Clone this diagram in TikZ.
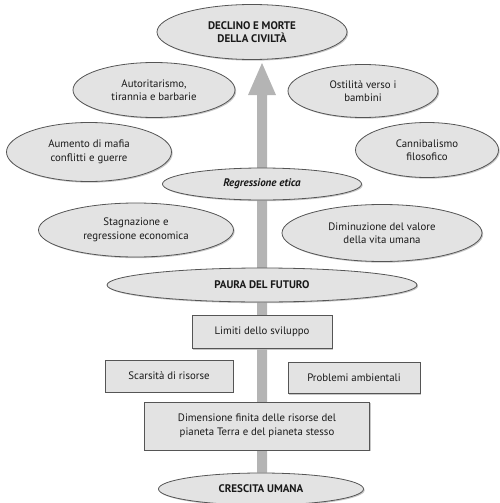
\documentclass[tikz,border=0pt]{standalone}
\usepackage{fontspec}
\setmainfont{PT Sans}
\usetikzlibrary{shapes.geometric,shadows,backgrounds}
\definecolor{boxfill}{HTML}{E3E3E3}
\definecolor{boxline}{HTML}{555555}
\definecolor{arrowgray}{HTML}{B4B4B4}
\tikzset{
  base/.style={draw=boxline, line width=0.8pt, fill=boxfill, inner sep=0pt, align=center,
    font=\fontsize{10.8}{13.5}\selectfont, text=black!90,
    drop shadow={shadow xshift=1.2pt, shadow yshift=-1.2pt, fill=gray!55, opacity=0.8}},
  ell/.style={base, ellipse},
  rbox/.style={base, rectangle},
  heading/.style={font=\fontsize{11}{13.5}\selectfont\bfseries},
  emphhead/.style={font=\fontsize{11}{13.5}\selectfont\bfseries\itshape},
}
\begin{document}
\begin{tikzpicture}[x=1pt,y=-1pt]
\useasboundingbox (0,0) rectangle (500,503);
\node[ell, heading, minimum width=190, minimum height=55] (top) at (252,32) {DECLINO E MORTE\\DELLA CIVILTÀ};
\node[ell, heading, minimum width=205, minimum height=32] (bottom) at (261,489) {CRESCITA UMANA};
\node[ell, minimum width=162, minimum height=55] (aut) at (154,90) {Autoritarismo,\\tirannia e barbarie};
\node[ell, minimum width=150, minimum height=53] (ost) at (363,91) {Ostilità verso i\\bambini};
\node[ell, minimum width=165, minimum height=59] (maf) at (89,152) {Aumento di mafia\\conflitti e guerre};
\node[ell, minimum width=143, minimum height=55] (can) at (427,150) {Cannibalismo\\filosofico};
\node[ell, emphhead, minimum width=199, minimum height=32] (reg) at (262,184) {Regressione etica};
\node[ell, minimum width=195, minimum height=54] (sta) at (136,230) {Stagnazione e\\regressione economica};
\node[ell, minimum width=200, minimum height=57] (dim) at (382,233) {Diminuzione del valore\\della vita umana};
\node[ell, heading, minimum width=310, minimum height=34] (pau) at (262,285) {PAURA DEL FUTURO};
\node[rbox, minimum width=140, minimum height=33] (lim) at (262,332) {Limiti dello sviluppo};
\node[rbox, minimum width=128, minimum height=32] (sca) at (169,376) {Scarsità di risorse};
\node[rbox, minimum width=132, minimum height=31] (pro) at (354,378) {Problemi ambientali};
\node[rbox, minimum width=225, minimum height=48] (fin) at (257,426) {Dimensione finita delle risorse del\\pianeta Terra e del pianeta stesso};
\begin{pgfonlayer}{background}
\coordinate (tip) at (262,63);
\fill[arrowgray] (bottom.north -| 257,0) -- (257,95) -- (248,95) -- (tip) -- (276,95) -- (267,95) -- (bottom.north -| 267,0) -- cycle;
\end{pgfonlayer}
\end{tikzpicture}
\end{document}
